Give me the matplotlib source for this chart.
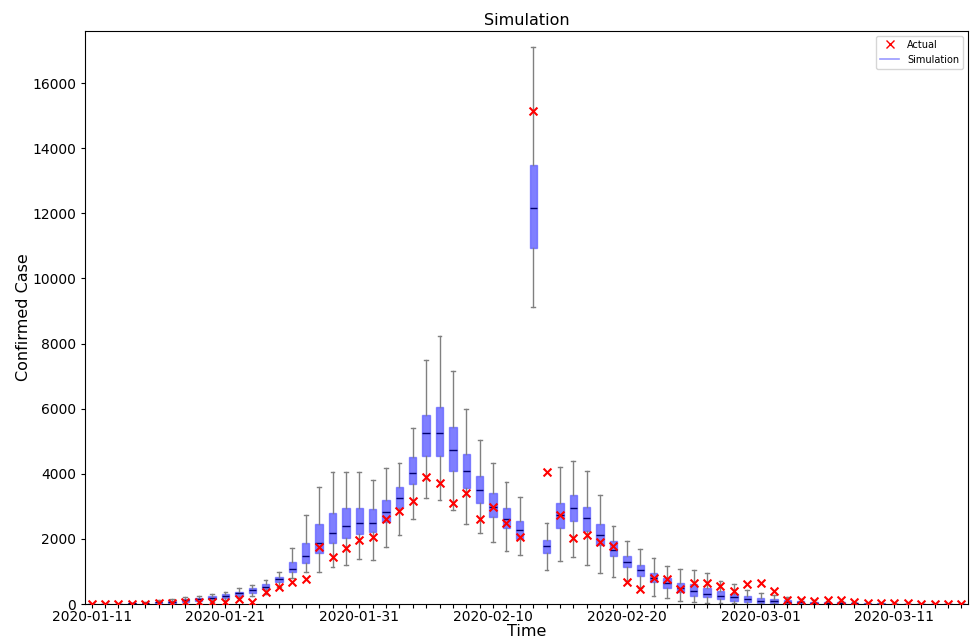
import datetime as dt

import matplotlib
matplotlib.use("Agg")
import matplotlib.pyplot as plt
from matplotlib.lines import Line2D

# ngày bắt đầu, 66 ngày liên tiếp
START = dt.date(2020, 1, 11)
N_DAYS = 66

# thống kê box của mô phỏng (mỗi ngày một giá trị)
q1 = [0, 0, 3, 10, 18, 30, 45, 70, 102, 143,
      174, 256, 348, 450, 665, 972, 1252, 1580, 1866, 2040,
      2150, 2224, 2510, 2960, 3698, 4558, 4558, 4097, 3575, 3114,
      2684, 2347, 1988, 10924, 1578, 2335, 2560, 2253, 1811, 1473,
      1125, 869, 664, 480, 357, 255, 203, 152, 101, 70,
      40, 40, 20, 15, 10, 10, 5, 5, 2, 0,
      0, 0, 0, 0, 0, 0]
median = [0, 2, 6, 18, 30, 50, 70, 112, 143, 194,
          235, 327, 430, 532, 757, 1085, 1476, 1866, 2173, 2400,
          2480, 2500, 2817, 3247, 4036, 5244, 5244, 4732, 4087, 3503,
          2991, 2600, 2275, 12172, 1782, 2734, 2959, 2641, 2118, 1658,
          1299, 1033, 808, 634, 500, 390, 320, 260, 200, 142,
          95, 81, 60, 50, 40, 35, 30, 20, 15, 10,
          8, 5, 3, 2, 1, 0]
q3 = [0, 5, 10, 30, 45, 70, 95, 153, 194, 245,
      296, 378, 501, 604, 819, 1300, 1866, 2460, 2807, 2960,
      2960, 2910, 3186, 3585, 4507, 5806, 6042, 5428, 4599, 3934,
      3400, 2940, 2561, 13483, 1966, 3108, 3349, 2990, 2456, 1944,
      1484, 1187, 965, 787, 640, 614, 490, 390, 320, 245,
      180, 143, 122, 90, 70, 60, 50, 40, 30, 20,
      15, 10, 8, 5, 3, 2]
whis_lo = [0, 0, 0, 2, 5, 10, 15, 25, 40, 70,
           122, 174, 256, 296, 532, 788, 990, 995, 1150, 1200,
           1375, 1354, 1763, 2124, 2612, 3257, 3206, 2889, 2449, 2193,
           1917, 1640, 1507, 9112, 1045, 1322, 1455, 1208, 941, 838,
           700, 500, 244, 173, 101, 50, 40, 30, 20, 10,
           5, 5, 0, 0, 0, 0, 0, 0, 0, 0,
           0, 0, 0, 0, 0, 0]
whis_hi = [0, 8, 15, 45, 70, 110, 150, 225, 245, 296,
           365, 481, 583, 737, 993, 1720, 2735, 3590, 4066, 4046,
           4046, 3810, 4168, 4342, 5397, 7484, 8231, 7166, 5980, 5048,
           4342, 3738, 3278, 17097, 2503, 4214, 4403, 4075, 3347, 2395,
           1944, 1678, 1402, 1180, 1074, 1054, 942, 716, 614, 430,
           348, 276, 204, 150, 120, 100, 80, 60, 45, 30,
           25, 15, 10, 8, 5, 3]

# số ca thực tế
actual = [0, 0, 0, 0, 4, 17, 40, 50, 50, 70,
          70, 143, 70, 358, 511, 665, 775, 1763, 1456, 1712,
          1968, 2070, 2600, 2857, 3174, 3901, 3718, 3114, 3400, 2600,
          2991, 2480, 2070, 15151, 4065, 2744, 2012, 2115, 1903, 1791,
          664, 449, 808, 767, 460, 634, 634, 555, 399, 603,
          660, 399, 133, 133, 102, 122, 122, 71, 40, 20,
          20, 20, 10, 0, 0, 0]

dates = [(START + dt.timedelta(days=i)).strftime("%Y-%m-%d") for i in range(N_DAYS)]
tick_labels = [d if i % 10 == 0 else "" for i, d in enumerate(dates)]


def main():
    stats = []
    for i in range(N_DAYS):
        stats.append(dict(q1=q1[i], med=median[i], q3=q3[i],
                          whislo=whis_lo[i], whishi=whis_hi[i], fliers=[]))

    fig = plt.figure(figsize=(9.71, 6.40), dpi=100)
    ax = fig.add_axes([85 / 971, 1 - 604 / 640, (968 - 85) / 971, (604 - 31) / 640])

    pos = list(range(N_DAYS))
    ax.bxp(stats, positions=pos, widths=0.55, patch_artist=True, showfliers=False,
           boxprops=dict(facecolor=(0, 0, 1, 0.5), edgecolor=(0.3, 0.3, 1, 0.6), linewidth=1),
           medianprops=dict(color="#00006e", linewidth=1),
           whiskerprops=dict(color="#808080", linewidth=1),
           capprops=dict(color="#808080", linewidth=1), capwidths=0.28)

    ax.scatter(pos, actual, marker="x", color="red", s=32, linewidths=1.5, zorder=5)

    ax.set_xlim(-0.5, N_DAYS - 0.5)
    ax.set_ylim(0, 17600)
    ax.set_xticks(pos)
    ax.set_xticklabels(tick_labels, fontsize=10)
    ax.set_yticks(range(0, 16001, 2000))
    ax.tick_params(axis="y", labelsize=10, length=3)
    ax.tick_params(axis="x", length=3, pad=1.5)
    ax.set_title("Simulation", fontsize=11.5, pad=4)
    ax.set_xlabel("Time", fontsize=11.5, labelpad=0)
    ax.set_ylabel("Confirmed Case", fontsize=11.5, labelpad=1)

    handles = [Line2D([], [], marker="x", color="red", linestyle="none", markersize=6),
               Line2D([], [], color=(0, 0, 1, 0.4), linewidth=1.2)]
    ax.legend(handles, ["Actual", "Simulation"], loc="upper right", fontsize=7)

    fig.savefig("out.png", dpi=100)
    plt.close(fig)


if __name__ == "__main__":
    main()
